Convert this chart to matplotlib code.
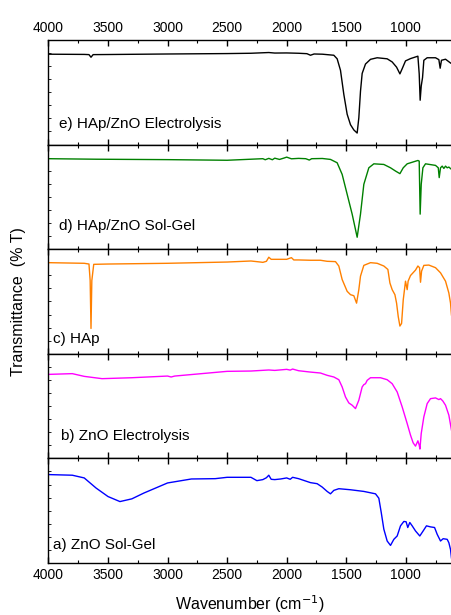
import matplotlib
matplotlib.use("Agg")
import matplotlib.pyplot as plt
from matplotlib.ticker import MultipleLocator, NullFormatter

plt.rcParams['font.family'] = ['Liberation Sans', 'DejaVu Sans']

# a) ZnO Sol-Gel
wn_a = [4000, 3800, 3700, 3600, 3500, 3400, 3300, 3200, 3000, 2800, 2600, 2500, 2300, 2250,
        2200, 2170, 2150, 2130, 2100, 2050, 2000, 1970, 1950, 1900, 1850, 1800, 1744, 1702,
        1660, 1632, 1604, 1562, 1464, 1352, 1254, 1226, 1206, 1184, 1156, 1128, 1100, 1072,
        1044, 1016, 997, 983, 966, 946, 918, 882, 854, 826, 792, 758, 736, 708, 686, 652,
        638, 624, 616]
t_a = [84.5, 83.9, 81.3, 71.6, 63.5, 58.7, 61.3, 66.8, 76.5, 80.3, 80.6, 81.9, 81.9, 78.7,
       79.7, 81.5, 83.9, 80.0, 79.7, 80.3, 81.3, 80.0, 81.9, 80.6, 78.7, 76.8, 75.8, 72.6,
       68.4, 66.1, 69.4, 71.0, 70.0, 68.4, 66.1, 61.9, 48.4, 32.3, 21.0, 16.8, 22.6, 25.8,
       35.5, 39.7, 39.4, 33.9, 38.7, 35.5, 30.6, 25.8, 30.6, 35.5, 34.5, 33.9, 27.4, 21.0,
       23.2, 22.6, 19.4, 12.9, 4.8]

# b) ZnO Electrolysis
wn_b = [4000, 3800, 3700, 3550, 3300, 3000, 2970, 2940, 2500, 2300, 2150, 2100, 2000, 1970,
        1950, 1900, 1800, 1716, 1660, 1604, 1562, 1534, 1506, 1478, 1450, 1422, 1394, 1366,
        1352, 1338, 1324, 1296, 1212, 1156, 1114, 1072, 1030, 988, 960, 938, 918, 898, 887,
        881, 870, 848, 820, 792, 750, 722, 708, 689, 666, 638, 616]
t_b = [80.3, 81.0, 78.4, 76.2, 77.1, 78.7, 77.8, 78.7, 83.2, 83.5, 84.5, 84.1, 85.1, 84.4,
       85.4, 83.8, 82.5, 81.6, 79.4, 77.8, 75.2, 68.3, 58.7, 53.0, 50.8, 47.6, 55.6, 68.3,
       70.5, 71.4, 74.6, 77.1, 77.1, 75.2, 71.4, 63.5, 49.2, 33.3, 22.2, 14.9, 11.7, 16.8,
       12.7, 8.9, 23.8, 39.7, 52.4, 57.1, 57.8, 56.2, 57.1, 54.9, 50.8, 41.3, 27.0]

# c) HAp
wn_c = [4000, 3700, 3660, 3650, 3643, 3636, 3620, 3500, 3000, 2500, 2300, 2220, 2200, 2170,
        2150, 2130, 2100, 2000, 1960, 1940, 1900, 1800, 1716, 1660, 1590, 1562, 1534, 1492,
        1464, 1436, 1413, 1394, 1380, 1352, 1296, 1240, 1184, 1150, 1133, 1114, 1091, 1077,
        1063, 1049, 1035, 1021, 1002, 988, 980, 960, 918, 898, 884, 876, 867, 848, 806, 750,
        708, 666, 638, 624, 616]
t_c = [87.1, 86.5, 85.8, 70.0, 24.2, 70.0, 85.5, 85.8, 86.5, 87.7, 88.7, 87.7, 87.4, 88.4,
       92.3, 90.3, 90.3, 90.3, 91.9, 89.7, 89.7, 89.4, 89.4, 88.4, 88.1, 83.9, 71.0, 59.7,
       56.5, 55.5, 48.4, 61.3, 74.2, 84.5, 87.1, 86.5, 83.9, 80.6, 67.7, 61.3, 56.5, 48.4,
       35.5, 26.5, 29.0, 51.6, 69.4, 61.3, 69.4, 74.8, 80.0, 83.9, 82.3, 68.4, 79.0, 84.5,
       84.8, 82.3, 77.4, 69.4, 58.1, 48.4, 37.1]

# d) HAp/ZnO Sol-Gel
wn_d = [4000, 3600, 3000, 2500, 2300, 2200, 2180, 2150, 2120, 2100, 2060, 2020, 2000, 1960,
        1900, 1840, 1810, 1790, 1700, 1632, 1576, 1534, 1492, 1450, 1408, 1380, 1352, 1310,
        1268, 1184, 1128, 1086, 1049, 1021, 988, 898, 887, 879, 870, 856, 834, 750, 727, 719,
        708, 694, 680, 666, 652, 638, 616]
t_d = [86.5, 86.0, 85.6, 85.0, 86.0, 86.5, 85.5, 86.8, 85.5, 87.0, 85.8, 87.2, 88.0, 86.4,
       86.8, 86.5, 85.2, 86.5, 86.7, 85.8, 82.6, 71.5, 52.5, 33.5, 11.4, 33.5, 62.0, 77.8,
       81.6, 81.0, 77.8, 74.7, 72.2, 77.8, 81.6, 84.8, 84.2, 33.5, 62.0, 77.8, 81.6, 80.1,
       77.8, 68.4, 77.8, 79.4, 77.2, 79.4, 77.8, 78.5, 76.3]

# e) HAp/ZnO Electrolysis
wn_e = [4000, 3700, 3660, 3643, 3625, 3500, 3000, 2500, 2300, 2150, 2100, 2000, 1900, 1830,
        1800, 1770, 1700, 1604, 1576, 1548, 1520, 1492, 1464, 1436, 1408, 1394, 1380, 1366,
        1338, 1296, 1240, 1156, 1114, 1077, 1049, 1030, 1002, 960, 898, 887, 879, 870, 859,
        848, 820, 750, 722, 711, 700, 666, 624, 616]
t_e = [86.4, 86.2, 86.0, 83.5, 86.0, 86.1, 86.6, 87.0, 87.3, 88.0, 87.5, 87.6, 87.3, 86.9,
       85.4, 86.6, 86.4, 85.4, 82.0, 71.0, 48.0, 29.0, 19.0, 14.0, 11.0, 25.6, 51.0, 68.0,
       77.0, 81.5, 83.0, 82.0, 79.0, 74.0, 67.6, 72.5, 80.0, 82.2, 84.5, 67.6, 42.4, 56.0,
       64.0, 80.6, 83.0, 83.0, 81.2, 73.0, 80.6, 81.6, 78.0, 77.5]

labels = ['e) HAp/ZnO Electrolysis', 'd) HAp/ZnO Sol-Gel', 'c) HAp',
          'b) ZnO Electrolysis', 'a) ZnO Sol-Gel']
colors = ['black', '#008000', '#ff8000', '#ff00ff', '#0000ff']
label_pos = [(0.025, 0.20), (0.025, 0.22), (0.012, 0.14), (0.030, 0.21), (0.012, 0.17)]
series = [(wn_e, t_e), (wn_d, t_d), (wn_c, t_c), (wn_b, t_b), (wn_a, t_a)]

fig = plt.figure(figsize=(4.51, 6.15), dpi=100)
gs = fig.add_gridspec(5, 1, left=0.1075, right=1.0, top=0.935, bottom=0.0846, hspace=0)
axes = [fig.add_subplot(gs[i]) for i in range(5)]

for i, ax in enumerate(axes):
    wn, t = series[i]
    ax.plot(wn, t, color=colors[i], lw=1.0)
    ax.set_xlim(4000, 620)
    ax.set_ylim(0, 100)
    ax.xaxis.set_major_locator(MultipleLocator(500))
    ax.xaxis.set_minor_locator(MultipleLocator(250))
    ax.yaxis.set_minor_locator(MultipleLocator(12.5))
    ax.yaxis.set_major_locator(MultipleLocator(25))
    ax.yaxis.set_major_formatter(NullFormatter())
    ax.tick_params(axis='x', which='both', direction='in', top=True, bottom=True,
                   labeltop=(i == 0), labelbottom=(i == 4), labelsize=10)
    ax.tick_params(axis='x', which='major', length=4.5, width=1)
    ax.tick_params(axis='x', which='minor', length=2.5, width=0.8)
    ax.tick_params(axis='y', which='both', direction='in', length=2, width=0.6)
    ax.spines['right'].set_visible(False)
    for s in ['top', 'bottom', 'left']:
        ax.spines[s].set_linewidth(1.0)
    x0, y0 = label_pos[i]
    ax.text(x0, y0, labels[i], transform=ax.transAxes, fontsize=11, va='center', ha='left')

axes[4].set_xlabel('Wavenumber (cm$^{-1}$)', fontsize=11.5, labelpad=8)
fig.text(0.04, 0.51, 'Transmittance  (% T)', rotation=90, fontsize=11.5,
         ha='center', va='center')

fig.savefig('out.png', dpi=100)
